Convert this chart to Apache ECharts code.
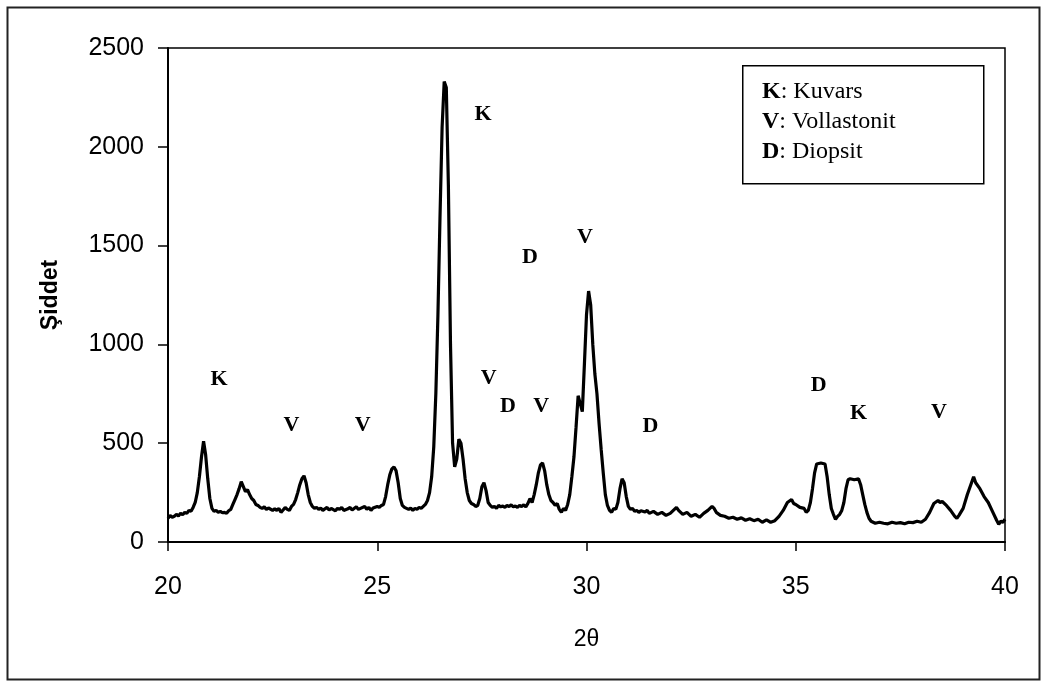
<!DOCTYPE html>
<html>
<head>
<meta charset="utf-8">
<script src="https://cdn.jsdelivr.net/npm/echarts@6/dist/echarts.min.js"></script>
<style>
html,body{margin:0;padding:0;background:#fff;}
#main{width:1043px;height:683px;}
</style>
</head>
<body>
<div id="main"></div>
<script>
// 2θ values and intensities
const twoTheta = [
20.00,20.05,20.10,20.15,20.20,20.25,20.30,20.35,20.40,20.45,20.50,20.55,20.60,20.65,20.70,20.75,20.80,20.85,20.90,20.95,
21.00,21.05,21.10,21.15,21.20,21.25,21.30,21.35,21.40,21.45,21.50,21.55,21.60,21.65,21.70,21.75,21.80,21.85,21.90,21.95,
22.00,22.05,22.10,22.15,22.20,22.25,22.30,22.35,22.40,22.50,22.55,22.60,22.65,22.70,22.75,22.80,22.85,22.90,22.95,
23.00,23.05,23.10,23.15,23.20,23.25,23.30,23.35,23.40,23.45,23.50,23.55,23.60,23.65,23.70,23.75,23.80,23.85,23.90,
24.00,24.05,24.10,24.15,24.20,24.30,24.35,24.40,24.50,24.55,24.60,24.70,24.75,24.80,24.85,24.90,
25.00,25.05,25.10,25.15,25.20,25.25,25.30,25.35,25.40,25.45,25.50,25.55,25.60,25.65,25.70,25.75,25.80,25.85,25.90,25.95,
26.00,26.05,26.10,26.15,26.20,26.25,26.30,26.35,26.40,26.45,26.50,26.55,26.60,26.65,26.70,26.75,26.80,26.85,26.90,26.95,
27.00,27.05,27.10,27.15,27.20,27.25,27.30,27.35,27.40,27.45,27.50,27.55,27.60,27.65,27.70,27.75,27.80,27.85,27.90,27.95,
28.00,28.05,28.10,28.15,28.20,28.25,28.30,28.35,28.40,28.45,28.50,28.55,28.60,28.65,28.70,28.75,28.80,28.85,28.90,28.95,
29.00,29.05,29.10,29.15,29.20,29.25,29.30,29.35,29.40,29.45,29.50,29.55,29.60,29.65,29.70,29.75,29.80,29.85,29.90,29.95,
30.00,30.05,30.10,30.15,30.20,30.25,30.30,30.35,30.40,30.45,30.50,30.55,30.60,30.65,30.70,30.75,30.80,30.85,30.90,30.95,
31.00,31.05,31.10,31.15,31.20,31.25,31.30,31.40,31.45,31.50,31.60,31.70,31.80,31.90,
32.00,32.10,32.15,32.20,32.30,32.40,32.50,32.60,32.70,32.80,32.90,
33.00,33.05,33.10,33.20,33.30,33.40,33.50,33.60,33.70,33.80,33.90,
34.00,34.10,34.20,34.30,34.40,34.50,34.60,34.70,34.80,34.90,34.95,
35.00,35.10,35.20,35.25,35.30,35.35,35.40,35.45,35.50,35.60,35.70,35.75,35.80,35.85,35.90,35.95,
36.00,36.05,36.10,36.15,36.20,36.25,36.30,36.40,36.50,36.55,36.60,36.65,36.70,36.75,36.80,36.90,
37.00,37.10,37.20,37.30,37.40,37.50,37.60,37.70,37.80,37.90,
38.00,38.10,38.20,38.30,38.40,38.45,38.50,38.60,38.70,38.80,38.85,38.90,
39.00,39.10,39.20,39.25,39.30,39.40,39.50,39.60,39.70,39.80,39.85,39.90,39.95,40.00
];
const intensity = [
120,135,125,130,140,132,145,138,150,145,160,155,175,200,250,330,430,510,440,320,
220,170,155,160,150,155,148,150,145,158,165,190,215,240,270,305,280,255,265,240,
220,210,190,185,175,170,178,165,172,160,168,160,170,150,162,175,165,160,180,
190,215,250,290,320,335,300,240,200,180,170,175,165,172,160,168,175,162,170,
158,170,165,175,160,168,175,162,178,165,170,180,165,175,160,172,
180,175,185,190,230,290,340,370,380,360,300,220,185,175,170,165,172,160,170,165,
175,170,180,190,210,250,330,480,750,1150,1650,2100,2330,2300,1800,1000,500,380,420,520,
500,420,320,250,210,195,190,180,185,220,280,300,260,200,185,175,180,170,185,178,
182,175,185,180,188,178,182,175,185,180,188,178,195,220,200,240,290,350,390,400,
360,290,240,210,200,185,195,165,150,170,160,190,240,330,430,580,740,700,660,900,
1150,1270,1200,1000,850,750,600,470,350,240,185,160,150,170,165,200,270,320,300,230,
180,165,170,155,160,150,158,152,160,145,155,140,150,135,
145,165,175,160,140,150,130,140,125,145,160,
180,170,150,135,130,120,125,115,122,110,118,
108,115,100,112,100,108,130,160,200,215,195,
190,175,170,150,160,200,270,350,395,400,395,330,240,170,140,115,
130,140,160,200,270,315,320,315,320,290,240,190,150,120,105,95,
100,95,92,100,95,98,92,100,98,105,
100,115,150,195,210,200,205,185,160,130,120,135,
170,240,300,330,300,270,230,200,155,110,90,105,100,115
];
// phase annotation letters
const markText = ['K','V','V','K','D','V','V','D','V','D','D','K','V'];
const markX    = [21.22,22.95,24.65,27.53,28.65,29.96,27.66,28.12,28.92,31.53,35.55,36.50,38.42];
const markY    = [825,592,592,2166,1440,1540,830,685,685,585,795,653,655];
// axis ticks
const xTicks = [20,25,30,35,40];
const yTicks = [0,500,1000,1500,2000,2500];
// legend entries
const legendKeys = ['K','V','D'];
const legendNames = ['Kuvars','Vollastonit','Diopsit'];

const lineData = twoTheta.map((x,i)=>[x,intensity[i]]);
const markData = markX.map((x,i)=>({value:[x,markY[i]],name:markText[i]}));

const chart = echarts.init(document.getElementById('main'));
const legendLines = legendKeys.map((k,i)=>'{b|'+k+'}{n|: '+legendNames[i]+'}').join('\n');

chart.setOption({
  animation:false,
  backgroundColor:'#fff',
  grid:{left:168,top:48,right:38,bottom:141,show:true,borderColor:'#000',borderWidth:1.5,backgroundColor:'transparent'},
  xAxis:{
    type:'value',min:xTicks[0],max:xTicks[xTicks.length-1],interval:5,
    name:'2θ',nameLocation:'middle',nameGap:86,
    nameTextStyle:{fontFamily:'Liberation Sans',fontSize:23,color:'#000'},
    axisLine:{show:true,onZero:false,lineStyle:{color:'#000',width:2}},
    axisTick:{show:true,inside:false,length:9,lineStyle:{color:'#000',width:1.5}},
    axisLabel:{fontFamily:'Liberation Sans',fontSize:25,color:'#000',margin:33,formatter:v=>String(v)},
    splitLine:{show:false}
  },
  yAxis:{
    type:'value',min:yTicks[0],max:yTicks[yTicks.length-1],interval:500,
    name:'Şiddet',nameLocation:'middle',nameGap:106,nameRotate:90,
    nameTextStyle:{fontFamily:'Liberation Sans',fontSize:23,fontWeight:'bold',color:'#000'},
    axisLine:{show:true,lineStyle:{color:'#000',width:2}},
    axisTick:{show:true,inside:false,length:10,lineStyle:{color:'#000',width:1.5}},
    axisLabel:{fontFamily:'Liberation Sans',fontSize:25,color:'#000',margin:24,formatter:v=>String(v)},
    splitLine:{show:false}
  },
  series:[
    {
      type:'line',data:lineData,showSymbol:false,symbol:'none',
      lineStyle:{color:'#000',width:3.2},
      silent:true,z:3
    },
    {
      type:'scatter',data:markData,symbolSize:0,silent:true,z:4,
      itemStyle:{opacity:1,color:'#000'},
      label:{show:true,position:'inside',formatter:p=>p.name,opacity:1,
        fontFamily:'Liberation Serif',fontWeight:'bold',fontSize:22,color:'#000'}
    }
  ],
  graphic:[
    {type:'rect',left:5,top:5,shape:{width:1032,height:672},
      style:{fill:'none',stroke:'#222',lineWidth:2},silent:true,z:0},
    {type:'rect',left:742,top:65,shape:{width:241,height:118},
      style:{fill:'#fff',stroke:'#000',lineWidth:1.5},silent:true,z:10},
    {type:'text',left:762,top:77,silent:true,z:11,
      style:{text:legendLines,lineHeight:30,
        rich:{
          b:{fontFamily:'Liberation Serif',fontWeight:'bold',fontSize:24,color:'#000',lineHeight:30},
          n:{fontFamily:'Liberation Serif',fontSize:24,color:'#000',lineHeight:30}
        }}}
  ]
});
</script>
</body>
</html>
